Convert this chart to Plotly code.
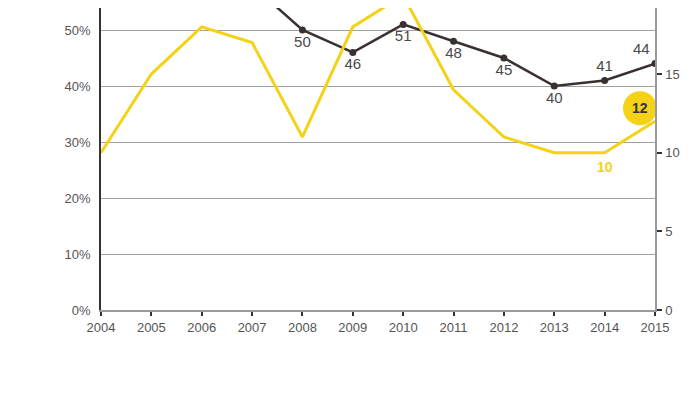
import plotly.graph_objects as go

years = [2004, 2005, 2006, 2007, 2008, 2009, 2010, 2011, 2012, 2013, 2014, 2015]
count_values = [10, 15, 18, 17, 11, 18, 20, 14, 11, 10, 10, 12]          # yellow, right axis
share_years = [2007, 2008, 2009, 2010, 2011, 2012, 2013, 2014, 2015]
share_values = [58, 50, 46, 51, 48, 45, 40, 41, 44]                        # dark, left axis (%)
share_labels = ["", "50", "46", "51", "48", "45", "40", "41", "44"]
share_textpos = ["bottom center"] * 7 + ["top center", "top left"]
count_label_index = 10   # 2014 value labelled in yellow
left_ticks = [0, 10, 20, 30, 40, 50]
left_ticktext = ["%d%%" % v for v in left_ticks]
right_ticks = [0, 5, 10, 15, 20]

YELLOW = "#F4D218"
DARK = "#3b3030"
GRID = "#a0a0a0"
TXT = "#555555"
FONT = "Liberation Sans"

fig = go.Figure()

fig.add_trace(go.Scatter(
    x=years, y=count_values, yaxis="y2", mode="lines",
    line=dict(color=YELLOW, width=3),
    hoverinfo="skip", showlegend=False,
))

fig.add_trace(go.Scatter(
    x=share_years, y=share_values, mode="lines+markers+text",
    line=dict(color=DARK, width=2.5),
    marker=dict(color=DARK, size=7),
    text=share_labels, textposition=share_textpos,
    textfont=dict(family=FONT, size=15, color="#4a4a4a"),
    hoverinfo="skip", showlegend=False, cliponaxis=True,
))

# yellow value label below the 2014 point
fig.add_annotation(x=years[count_label_index], y=count_values[count_label_index],
                   xref="x", yref="y2", yshift=-14, showarrow=False,
                   text="<b>%d</b>" % count_values[count_label_index],
                   font=dict(family=FONT, size=14, color=YELLOW))

# highlighted last value bubble, anchored on the 2015 data point
fig.add_shape(type="circle", xref="x", yref="y2",
              xsizemode="pixel", ysizemode="pixel",
              xanchor=years[-1], yanchor=count_values[-1],
              x0=-32, x1=2, y0=-4, y1=30,
              fillcolor=YELLOW, line=dict(width=0), layer="above")
fig.add_annotation(x=years[-1], y=count_values[-1], xref="x", yref="y2",
                   xshift=-15, yshift=13, text="<b>%d</b>" % count_values[-1],
                   showarrow=False, font=dict(family=FONT, size=14, color="#333333"))

fig.update_layout(
    width=692, height=386,
    margin=dict(l=93, r=45, t=0, b=84),
    paper_bgcolor="white", plot_bgcolor="white",
    font=dict(family=FONT, size=13, color=TXT),
    xaxis=dict(
        range=[2004, 2015], tickvals=years, ticktext=[str(y) for y in years],
        showgrid=False, zeroline=False,
        showline=True, linecolor="#9a9a9a", linewidth=2,
        ticks="outside", ticklen=4, tickcolor="#333333", tickwidth=1.5,
        tickfont=dict(family=FONT, size=13, color=TXT),
    ),
    yaxis=dict(
        range=[0, 53.93], tickvals=left_ticks, ticktext=left_ticktext,
        showgrid=True, gridcolor=GRID, gridwidth=1, zeroline=False,
        showline=True, linecolor="#333333", linewidth=1.5,
        ticks="", tickfont=dict(family=FONT, size=13, color=TXT),
        ticklabelstandoff=6,
    ),
    yaxis2=dict(
        range=[0, 19.2], tickvals=right_ticks, overlaying="y", side="right",
        showgrid=False, zeroline=False,
        showline=True, linecolor="#9a9a9a", linewidth=1.5,
        ticks="outside", ticklen=5, tickcolor="#333333", tickwidth=1.5,
        tickfont=dict(family=FONT, size=13, color=TXT),
        ticklabelstandoff=1,
    ),
)

fig.write_html("out.html")
